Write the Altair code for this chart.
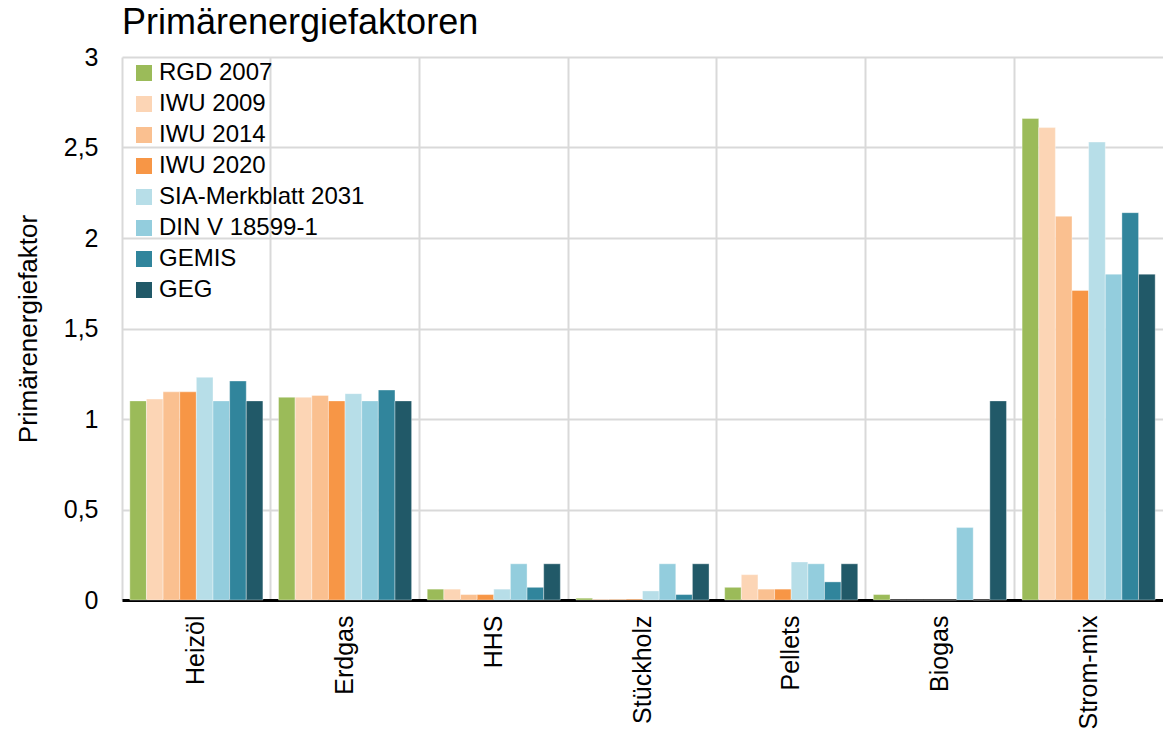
import altair as alt
import pandas as pd

categories = ["Heizöl", "Erdgas", "HHS", "Stückholz", "Pellets", "Biogas", "Strom-mix"]
series = ["RGD 2007", "IWU 2009", "IWU 2014", "IWU 2020", "SIA-Merkblatt 2031", "DIN V 18599-1", "GEMIS", "GEG"]
colors = ["#9BBB59", "#FCD5B5", "#FAC090", "#F79646", "#B7DEE8", "#93CDDD", "#31859C", "#215968"]

rgd_2007 = [1.10, 1.12, 0.06, 0.01, 0.07, 0.03, 2.66]
iwu_2009 = [1.11, 1.12, 0.06, 0.005, 0.14, 0.0, 2.61]
iwu_2014 = [1.15, 1.13, 0.03, 0.005, 0.06, 0.0, 2.12]
iwu_2020 = [1.15, 1.10, 0.03, 0.005, 0.06, 0.0, 1.71]
sia_2031 = [1.23, 1.14, 0.06, 0.05, 0.21, 0.0, 2.53]
din_18599 = [1.10, 1.10, 0.20, 0.20, 0.20, 0.40, 1.80]
gemis = [1.21, 1.16, 0.07, 0.03, 0.10, 0.0, 2.14]
geg = [1.10, 1.10, 0.20, 0.20, 0.20, 1.10, 1.80]

values = [rgd_2007, iwu_2009, iwu_2014, iwu_2020, sia_2031, din_18599, gemis, geg]

rows = []
for s, vals in zip(series, values):
    for c, v in zip(categories, vals):
        rows.append({"Kategorie": c, "Quelle": s, "Wert": v})
df = pd.DataFrame(rows)

FONT = "Liberation Sans"
W = "normal"

chart = (
    alt.Chart(df)
    .mark_bar(stroke="white", strokeWidth=0.6, strokeOpacity=0.6)
    .encode(
        x=alt.X(
            "Kategorie:N",
            sort=categories,
            scale=alt.Scale(paddingInner=0, paddingOuter=0),
            axis=alt.Axis(
                title=None,
                labelAngle=-90,
                labelFontSize=25,
                labelFontWeight=W,
                labelPadding=15,
                labelLimit=0,
                ticks=False,
                grid=True,
                bandPosition=0,
                gridColor="#D9D9D9",
                gridWidth=2,
                domainColor="black",
                domainWidth=3,
            ),
        ),
        xOffset=alt.XOffset(
            "Quelle:N",
            sort=series,
            scale=alt.Scale(paddingInner=0, paddingOuter=0.47),
        ),
        y=alt.Y(
            "Wert:Q",
            scale=alt.Scale(domain=[0, 3], nice=False),
            axis=alt.Axis(
                title="Primärenergiefaktor",
                titleFontSize=26,
                titleFontWeight=W,
                titlePadding=22,
                values=[0, 0.5, 1, 1.5, 2, 2.5, 3],
                labelExpr="replace(toString(datum.value), '.', ',')",
                labelFontSize=25,
                labelFontWeight=W,
                labelPadding=24,
                ticks=False,
                domain=False,
                gridColor="#D9D9D9",
                gridWidth=2,
            ),
        ),
        color=alt.Color(
            "Quelle:N",
            sort=series,
            scale=alt.Scale(domain=series, range=colors),
            legend=alt.Legend(
                title=None,
                orient="none",
                legendX=10,
                legendY=4,
                labelFontSize=24,
                labelFontWeight=W,
                labelLimit=0,
                symbolType="square",
                symbolSize=256,
                symbolStrokeWidth=0,
                rowPadding=7,
                labelOffset=3,
            ),
        ),
    )
    .properties(
        width=1041,
        height=543,
        title=alt.TitleParams(
            "Primärenergiefaktoren",
            anchor="start",
            fontSize=36,
            fontWeight=W,
            offset=3,
            frame="group",
        ),
        autosize=alt.AutoSizeParams(type="none"),
        padding={"left": 114, "top": 49, "right": 0, "bottom": 133},
    )
    .configure(font=FONT)
    .configure_axis(labelColor="black", titleColor="black", labelFont=FONT, titleFont=FONT)
    .configure_legend(labelColor="black", labelFont=FONT)
    .configure_title(color="black", font=FONT)
    .configure_view(stroke=None)
)

chart.save("out.html", embed_options={"renderer": "svg", "actions": False})
